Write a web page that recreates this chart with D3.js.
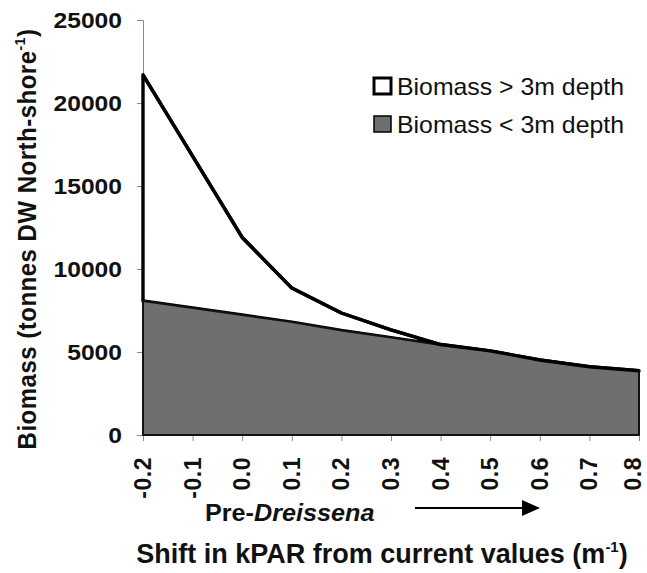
<!DOCTYPE html>
<html>
<head>
<meta charset="utf-8">
<script src="https://cdn.jsdelivr.net/npm/d3@7/dist/d3.min.js"></script>
<style>
  html, body { margin: 0; padding: 0; background: #fff; }
  svg { display: block; font-family: "Liberation Sans", Arial, sans-serif; }
</style>
</head>
<body>
<div id="chart"></div>
<script>
  // décalage de kPAR (m-1) par rapport aux valeurs actuelles
  const kparShift = [-0.2, -0.1, 0.0, 0.1, 0.2, 0.3, 0.4, 0.5, 0.6, 0.7, 0.8];
  // biomasse totale (ligne du haut) et biomasse < 3 m (zone grise)
  const biomassTotal   = [21700, 16800, 11900, 8850, 7350, 6330, 5450, 5070, 4520, 4110, 3870];
  const biomassShallow = [8070, 7650, 7230, 6800, 6300, 5870, 5420, 5070, 4520, 4110, 3870];
  const yTicks = [0, 5000, 10000, 15000, 20000, 25000];
  const xTickLabels = ['-0.2', '-0.1', '0.0', '0.1', '0.2', '0.3', '0.4', '0.5', '0.6', '0.7', '0.8'];
  const legendLabels = ['Biomass > 3m depth', 'Biomass < 3m depth'];

  const W = 647, H = 573;
  const x = d3.scaleLinear().domain([-0.2, 0.8]).range([143, 639]);
  const y = d3.scaleLinear().domain([0, 25000]).range([435, 20]);

  const svg = d3.select('#chart').append('svg').attr('width', W).attr('height', H);
  const rows = kparShift.map((k, i) => ({ k, tot: biomassTotal[i], sh: biomassShallow[i] }));

  // axe Y (fin, gris) + graduations
  const yAxis = svg.append('g').attr('transform', 'translate(143,0)')
    .call(d3.axisLeft(y).tickValues(yTicks).tickSize(6).tickFormat(''));
  yAxis.selectAll('path,line').attr('stroke', '#8a8a8a').attr('stroke-width', 1);

  const xAxis = svg.append('g').attr('transform', 'translate(0,435)')
    .call(d3.axisBottom(x).tickValues(kparShift).tickSize(6).tickFormat(''));
  xAxis.selectAll('path,line').attr('stroke', '#8a8a8a').attr('stroke-width', 1);

  // zone > 3 m (blanche, bordée de noir)
  const upper = d3.area().x((d) => x(d.k)).y0((d) => y(d.sh)).y1((d) => y(d.tot));
  svg.append('path').datum(rows).attr('d', upper)
    .attr('fill', '#fff').attr('stroke', '#000').attr('stroke-width', 3.4).attr('stroke-linejoin', 'round');

  // zone < 3 m (grise)
  const lower = d3.area().x((d) => x(d.k)).y0(y(0)).y1((d) => y(d.sh));
  svg.append('path').datum(rows).attr('d', lower)
    .attr('fill', '#6f6f6f').attr('stroke', '#111').attr('stroke-width', 2).attr('stroke-linejoin', 'round');

  // ligne totale par-dessus
  svg.append('path').datum(rows)
    .attr('d', d3.line().x((d) => x(d.k)).y((d) => y(d.tot)))
    .attr('fill', 'none').attr('stroke', '#000').attr('stroke-width', 3.4).attr('stroke-linejoin', 'round');

  // libellés Y
  yTicks.forEach((v) => {
    svg.append('text')
      .attr('transform', `translate(122,${y(v) + 8}) scale(1.12,1)`)
      .attr('text-anchor', 'end').attr('font-size', 22).attr('font-weight', 'bold')
      .attr('fill', '#111').text(v);
  });

  // libellés X (verticaux) — le dernier reste dans le cadre
  kparShift.forEach((k, i) => {
    const bx = Math.min(x(k) + 8, W - 6);
    svg.append('text')
      .attr('transform', `translate(${bx},457) rotate(-90)`)
      .attr('text-anchor', 'end').attr('font-size', 23).attr('font-weight', 'bold')
      .attr('letter-spacing', 0.5).attr('fill', '#111').text(xTickLabels[i]);
  });

  // titre Y
  const yt = svg.append('text')
    .attr('transform', 'translate(36,239) rotate(-90) scale(1,1.1)')
    .attr('text-anchor', 'middle').attr('font-size', 24).attr('font-weight', 'bold')
    .attr('letter-spacing', 0.5).attr('fill', '#111');
  yt.append('tspan').text('Biomass (tonnes DW North-shore');
  yt.append('tspan').attr('font-size', 14).attr('dy', -10).text('-1');
  yt.append('tspan').attr('dy', 10).text(')');

  // Pre-Dreissena + flèche
  const pd = svg.append('text')
    .attr('transform', 'translate(205,521) scale(1.05,1)')
    .attr('font-size', 24).attr('font-weight', 'bold').attr('fill', '#111');
  pd.append('tspan').text('Pre-');
  pd.append('tspan').attr('font-style', 'italic').text('Dreissena');

  svg.append('line').attr('x1', 415).attr('x2', 526).attr('y1', 508).attr('y2', 508)
    .attr('stroke', '#000').attr('stroke-width', 2);
  svg.append('path').attr('d', d3.line()([[522, 500], [540, 508], [522, 516]]) + 'Z').attr('fill', '#000');

  // titre X
  const xt = svg.append('text')
    .attr('transform', 'translate(382,563)')
    .attr('text-anchor', 'middle').attr('font-size', 27).attr('font-weight', 'bold').attr('fill', '#111');
  xt.append('tspan').text('Shift in kPAR from current values (m');
  xt.append('tspan').attr('font-size', 15).attr('dy', -11).text('-1');
  xt.append('tspan').attr('dy', 11).text(')');

  // légende
  const legFill = ['#fff', '#6f6f6f'];
  const legStroke = [3, 1.5];
  legendLabels.forEach((lab, i) => {
    const ly = 78 + i * 38;
    svg.append('rect').attr('x', 374).attr('y', ly).attr('width', 17).attr('height', 16)
      .attr('fill', legFill[i]).attr('stroke', '#000').attr('stroke-width', legStroke[i]);
    svg.append('text')
      .attr('transform', `translate(397,${ly + 17}) scale(1.08,1)`)
      .attr('font-size', 23).attr('fill', '#111').text(lab);
  });
</script>
</body>
</html>
